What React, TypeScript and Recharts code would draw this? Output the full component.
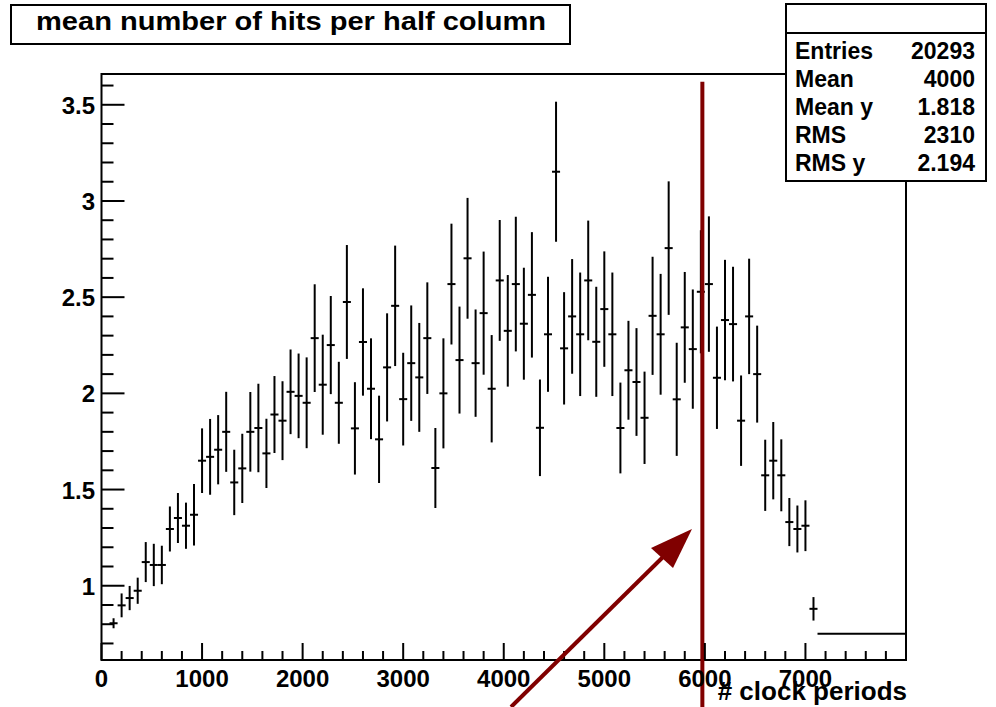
import React from "react";
import {
  ScatterChart, Scatter, XAxis, YAxis, ErrorBar, ReferenceArea, ReferenceLine,
} from "recharts";

// bin centres (# clock periods), bin width 80
const BIN_CENTERS = [
  120, 200, 280, 360, 440, 520, 600, 680, 760, 840,
  920, 1000, 1080, 1160, 1240, 1320, 1400, 1480, 1560, 1640,
  1720, 1800, 1880, 1960, 2040, 2120, 2200, 2280, 2360, 2440,
  2520, 2600, 2680, 2760, 2840, 2920, 3000, 3080, 3160, 3240,
  3320, 3400, 3480, 3560, 3640, 3720, 3800, 3880, 3960, 4040,
  4120, 4200, 4280, 4360, 4440, 4520, 4600, 4680, 4760, 4840,
  4920, 5000, 5080, 5160, 5240, 5320, 5400, 5480, 5560, 5640,
  5720, 5800, 5880, 5960, 6040, 6120, 6200, 6280, 6360, 6440,
  6520, 6600, 6680, 6760, 6840, 6920, 7000, 7080,
];
const HALF_BIN = 40;

const MEAN_HITS = [
  0.805, 0.898, 0.936, 0.974, 1.123, 1.108, 1.108, 1.295, 1.352, 1.312,
  1.369, 1.65, 1.67, 1.707, 1.80, 1.537, 1.61, 1.80, 1.82, 1.688,
  1.89, 1.858, 2.008, 1.987, 1.951, 2.287, 2.045, 2.251, 1.951, 2.475,
  1.818, 2.267, 2.024, 1.761, 2.135, 2.455, 1.970, 2.157, 2.083, 2.287,
  1.612, 2.0, 2.568, 2.173, 2.702, 2.157, 2.417, 2.024, 2.587, 2.325,
  2.568, 2.362, 2.512, 1.821, 2.307, 3.152, 2.234, 2.40, 2.307, 2.587,
  2.268, 2.438, 2.307, 1.82, 2.12, 2.059, 1.873, 2.403, 2.307, 2.755,
  1.969, 2.343, 2.23, 2.528, 2.568, 2.081, 2.381, 2.360, 1.858, 2.40,
  2.10, 1.574, 1.65, 1.574, 1.331, 1.295, 1.312, 0.88,
];

const ERRORS = [
  0.026, 0.062, 0.063, 0.068, 0.104, 0.11, 0.10, 0.117, 0.13, 0.12,
  0.16, 0.168, 0.197, 0.18, 0.208, 0.17, 0.18, 0.207, 0.23, 0.18,
  0.2, 0.205, 0.22, 0.22, 0.236, 0.28, 0.26, 0.255, 0.213, 0.296,
  0.24, 0.279, 0.262, 0.227, 0.281, 0.313, 0.241, 0.30, 0.283, 0.29,
  0.208, 0.286, 0.314, 0.278, 0.314, 0.279, 0.32, 0.279, 0.314, 0.29,
  0.35, 0.291, 0.326, 0.251, 0.299, 0.364, 0.292, 0.298, 0.321, 0.311,
  0.286, 0.30, 0.321, 0.236, 0.257, 0.28, 0.24, 0.307, 0.314, 0.347,
  0.294, 0.288, 0.31, 0.32, 0.352, 0.266, 0.313, 0.298, 0.235, 0.30,
  0.252, 0.185, 0.201, 0.187, 0.125, 0.122, 0.132, 0.061,
];

const X_TICKS = [
  0, 200, 400, 600, 800, 1000, 1200, 1400, 1600, 1800, 2000, 2200, 2400, 2600,
  2800, 3000, 3200, 3400, 3600, 3800, 4000, 4200, 4400, 4600, 4800, 5000, 5200,
  5400, 5600, 5800, 6000, 6200, 6400, 6600, 6800, 7000, 7200, 7400, 7600, 7800, 8000,
];
const Y_TICKS = [
  0.7, 0.8, 0.9, 1.0, 1.1, 1.2, 1.3, 1.4, 1.5, 1.6, 1.7, 1.8, 1.9, 2.0, 2.1,
  2.2, 2.3, 2.4, 2.5, 2.6, 2.7, 2.8, 2.9, 3.0, 3.1, 3.2, 3.3, 3.4, 3.5, 3.6,
];
const Y_DOMAIN = [0.614, 3.66];
const X_DOMAIN = [0, 8000];

const TAIL_LEVEL = 0.75;
const TAIL_FROM = 7120;
const CUT_X = 5975;

const STATS = [
  ["Entries", "20293"],
  ["Mean", "4000"],
  ["Mean y", "1.818"],
  ["RMS", "2310"],
  ["RMS y", "2.194"],
];

const W = 996;
const H = 707;
const PLOT_LEFT = 101.5;
const PLOT_BOTTOM = 660;
const FONT = "'Liberation Sans', Arial, Helvetica, sans-serif";
const RED = "#800000";

const data = BIN_CENTERS.map((x, i) => ({
  x,
  y: MEAN_HITS[i],
  err: ERRORS[i],
  half: HALF_BIN,
}));

const XTick = (props: any) => {
  const { x, payload } = props;
  const v = payload.value;
  const major = v % 1000 === 0;
  return (
    <g>
      <line x1={x} x2={x} y1={PLOT_BOTTOM} y2={PLOT_BOTTOM - (major ? 17 : 9)} stroke="#000" strokeWidth={2} />
      {major && v < 8000 && (
        <text x={x} y={687} textAnchor="middle" fontFamily={FONT} fontWeight="bold" fontSize={24} fill="#000">
          {v}
        </text>
      )}
    </g>
  );
};

const YTick = (props: any) => {
  const { y, payload } = props;
  const v = payload.value;
  const major = Math.round(v * 10) % 5 === 0;
  return (
    <g>
      <line x1={PLOT_LEFT} x2={PLOT_LEFT + (major ? 23 : 12)} y1={y} y2={y} stroke="#000" strokeWidth={2} />
      {major && (
        <text x={95} y={y + 9} textAnchor="end" fontFamily={FONT} fontWeight="bold" fontSize={24} fill="#000">
          {Number.isInteger(v) ? v : v.toFixed(1)}
        </text>
      )}
    </g>
  );
};

const NoDot = () => <g />;

export default function App() {
  return (
    <div style={{ position: "absolute", left: 0, top: 0, width: W, height: H, background: "#fff" }}>
      <ScatterChart width={W} height={H} margin={{ top: 74, right: 90, bottom: 0, left: 0 }}>
        <XAxis
          type="number"
          dataKey="x"
          domain={X_DOMAIN}
          allowDataOverflow
          ticks={X_TICKS}
          interval={0}
          tick={<XTick />}
          tickLine={false}
          axisLine={false}
          height={47}
        />
        <YAxis
          type="number"
          dataKey="y"
          domain={Y_DOMAIN}
          allowDataOverflow
          ticks={Y_TICKS}
          interval={0}
          tick={<YTick />}
          tickLine={false}
          axisLine={false}
          width={PLOT_LEFT}
        />
        <ReferenceArea
          x1={X_DOMAIN[0]} x2={X_DOMAIN[1]} y1={Y_DOMAIN[0]} y2={Y_DOMAIN[1]}
          fill="none" fillOpacity={0} stroke="#000" strokeWidth={2} strokeOpacity={1} ifOverflow="visible"
        />
        <Scatter data={data} shape={<NoDot />} isAnimationActive={false}>
          <ErrorBar dataKey="err" direction="y" width={0} stroke="#000" strokeWidth={2} isAnimationActive={false} />
          <ErrorBar dataKey="half" direction="x" width={0} stroke="#000" strokeWidth={2} isAnimationActive={false} />
        </Scatter>
        <ReferenceLine
          segment={[{ x: TAIL_FROM, y: TAIL_LEVEL }, { x: X_DOMAIN[1], y: TAIL_LEVEL }]}
          stroke="#000" strokeWidth={2} ifOverflow="visible"
        />
        <ReferenceLine
          segment={[{ x: CUT_X, y: 3.62 }, { x: CUT_X, y: 0.37 }]}
          stroke={RED} strokeWidth={4} ifOverflow="visible"
        />
      </ScatterChart>

      {/* title box, stats box, axis title and arrow drawn on top */}
      <svg width={W} height={H} style={{ position: "absolute", left: 0, top: 0, pointerEvents: "none" }}>
        <rect x={11} y={5} width={559} height={39} fill="#fff" stroke="#000" strokeWidth={2} />
        <text x={36} y={30} fontFamily={FONT} fontWeight="bold" fontSize={25} textLength={510}
          lengthAdjust="spacingAndGlyphs" fill="#000">
          mean number of hits per half column
        </text>

        <rect x={786} y={4} width={200} height={177} fill="#fff" stroke="#000" strokeWidth={2} />
        <line x1={786} x2={986} y1={33} y2={33} stroke="#000" strokeWidth={2} />
        {STATS.map(([k, v], i) => (
          <g key={k}>
            <text x={795} y={59 + i * 28} fontFamily={FONT} fontWeight="bold" fontSize={23} fill="#000">{k}</text>
            <text x={975} y={59 + i * 28} textAnchor="end" fontFamily={FONT} fontWeight="bold" fontSize={23} fill="#000">{v}</text>
          </g>
        ))}

        <text x={907} y={700} textAnchor="end" fontFamily={FONT} fontWeight="bold" fontSize={26} fill="#000">
          # clock periods
        </text>

        <line x1={511} x2={663} y1={707} y2={557} stroke={RED} strokeWidth={4} />
        <polygon points="692,529 651,548 673,568" fill={RED} />
      </svg>
    </div>
  );
}
